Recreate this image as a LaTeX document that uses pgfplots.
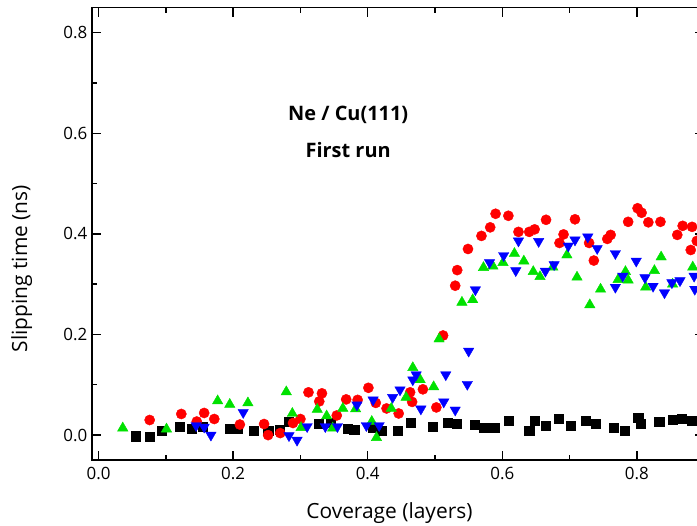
\documentclass[border=0pt]{standalone}
\usepackage{fontspec}
\setmainfont{Open Sans}
\usepackage{pgfplots}
\pgfplotsset{compat=1.18}
\definecolor{cred}{RGB}{255,0,0}
\definecolor{cgreen}{RGB}{0,225,0}
\definecolor{cblue}{RGB}{0,0,255}
\begin{document}
\begin{tikzpicture}
\begin{axis}[
  width=612.4bp, height=452.7bp, scale only axis,
  xmin=-0.01, xmax=0.9, ymin=-0.05, ymax=0.85,
  xtick={0,0.2,0.4,0.6,0.8}, ytick={0,0.2,0.4,0.6,0.8},
  minor xtick={0.1,0.3,0.5,0.7}, minor ytick={0.1,0.3,0.5,0.7},
  xticklabel style={/pgf/number format/fixed, /pgf/number format/fixed zerofill, /pgf/number format/precision=1},
  yticklabel style={/pgf/number format/fixed, /pgf/number format/fixed zerofill, /pgf/number format/precision=1},
  /pgf/number format/assume math mode=true,
  tick label style={font=\fontsize{17}{20}\selectfont},
  label style={font=\fontsize{21}{24}\selectfont},
  tick align=inside,
  major tick length=9bp, minor tick length=5bp,
  axis line style={line width=1.6bp},
  every tick/.style={black, line width=1.4bp},
  xticklabel shift=3bp, yticklabel shift=1bp,
  xlabel={Coverage (layers)}, ylabel={Slipping time (ns)},
  xlabel style={at={(axis description cs:0.486,-0.1157)}, anchor=center},
  ylabel style={at={(axis description cs:-0.1146,0.423)}, anchor=center, rotate=0},
]
\coordinate (bbll) at (axis cs:-0.1464,-0.1807);
\coordinate (bbur) at (axis cs:0.8893,0.865);
% black squares
\addplot[only marks, mark=square*, mark size=4.6bp, black] coordinates {
(0.055,-0.002) (0.076,-0.003) (0.094,0.009) (0.121,0.016) (0.139,0.013) (0.155,0.017)
(0.195,0.012) (0.207,0.012) (0.231,0.009) (0.252,0.008) (0.269,0.010) (0.283,0.026)
(0.327,0.022) (0.345,0.025) (0.370,0.013) (0.380,0.010) (0.408,0.014) (0.420,0.009)
(0.444,0.009) (0.464,0.025) (0.497,0.017) (0.519,0.025) (0.532,0.022) (0.559,0.020)
(0.572,0.015) (0.588,0.014) (0.610,0.028) (0.640,0.008) (0.648,0.028) (0.665,0.018)
(0.684,0.032) (0.702,0.018) (0.724,0.028) (0.739,0.022) (0.766,0.015) (0.782,0.009)
(0.802,0.034) (0.806,0.022) (0.833,0.027) (0.853,0.030) (0.867,0.032) (0.881,0.028)
};
% red circles
\addplot[only marks, mark=*, mark size=5.1bp, cred] coordinates {
(0.076,0.030) (0.123,0.042) (0.146,0.027) (0.157,0.044) (0.172,0.032) (0.210,0.021)
(0.246,0.022) (0.252,0.000) (0.270,0.004) (0.289,0.024) (0.300,0.032) (0.312,0.085)
(0.328,0.067) (0.332,0.083) (0.354,0.039) (0.368,0.071) (0.385,0.070) (0.401,0.094)
(0.412,0.064) (0.428,0.053) (0.446,0.043) (0.463,0.085) (0.466,0.066) (0.482,0.091)
(0.502,0.055) (0.512,0.198) (0.530,0.297) (0.533,0.328) (0.549,0.370) (0.569,0.396)
(0.582,0.413) (0.590,0.440) (0.609,0.436) (0.624,0.404) (0.640,0.404) (0.648,0.409)
(0.665,0.428) (0.685,0.382) (0.691,0.399) (0.708,0.429) (0.729,0.382) (0.736,0.347)
(0.756,0.390) (0.761,0.398) (0.787,0.424) (0.801,0.451) (0.807,0.442) (0.817,0.423)
(0.835,0.424) (0.860,0.398) (0.868,0.416) (0.882,0.414) (0.880,0.368) (0.889,0.386)
};
% green up triangles
\addplot[only marks, mark=triangle*, mark size=6bp, cgreen] coordinates {
(0.036,0.014) (0.101,0.012) (0.177,0.068) (0.195,0.061) (0.222,0.064) (0.279,0.086)
(0.288,0.043) (0.301,0.015) (0.325,0.051) (0.339,0.038) (0.348,0.014) (0.363,0.053)
(0.382,0.052) (0.406,0.027) (0.413,-0.005) (0.435,0.053) (0.457,0.075) (0.467,0.134)
(0.478,0.110) (0.498,0.096) (0.506,0.191) (0.540,0.264) (0.556,0.269) (0.572,0.333)
(0.586,0.336) (0.601,0.343) (0.618,0.361) (0.632,0.346) (0.646,0.325) (0.656,0.315)
(0.675,0.334) (0.696,0.358) (0.711,0.314) (0.730,0.259) (0.746,0.290) (0.772,0.309)
(0.783,0.325) (0.787,0.308) (0.813,0.294) (0.826,0.327) (0.836,0.354) (0.853,0.300)
(0.883,0.334)
};
% blue down triangles
\addplot[only marks, mark=triangle*, mark size=6bp, mark options={rotate=180}, cblue] coordinates {
(0.145,0.019) (0.157,0.016) (0.167,0.000) (0.215,0.045) (0.283,-0.001) (0.295,-0.010)
(0.310,0.017) (0.337,0.017) (0.355,0.017) (0.384,0.060) (0.398,0.019) (0.417,0.019)
(0.408,0.070) (0.437,0.075) (0.448,0.090) (0.467,0.110) (0.472,0.120) (0.479,0.052)
(0.513,0.066) (0.516,0.120) (0.530,0.050) (0.548,0.101) (0.550,0.167) (0.560,0.289)
(0.581,0.343) (0.602,0.357) (0.620,0.327) (0.624,0.386) (0.654,0.385) (0.664,0.326)
(0.677,0.339) (0.698,0.376) (0.708,0.388) (0.727,0.394) (0.741,0.371) (0.768,0.361)
(0.768,0.294) (0.779,0.316) (0.799,0.346) (0.812,0.313) (0.824,0.296) (0.841,0.283)
(0.852,0.303) (0.864,0.307) (0.885,0.316) (0.886,0.290)
};
\node[font=\bfseries\fontsize{20}{23}\selectfont] at (axis cs:0.371,0.636) {Ne / Cu(111)};
\node[font=\bfseries\fontsize{20}{23}\selectfont] at (axis cs:0.371,0.567) {First run};
\end{axis}
\pgfresetboundingbox
\useasboundingbox (bbll) rectangle (bbur);
\end{tikzpicture}
\end{document}
